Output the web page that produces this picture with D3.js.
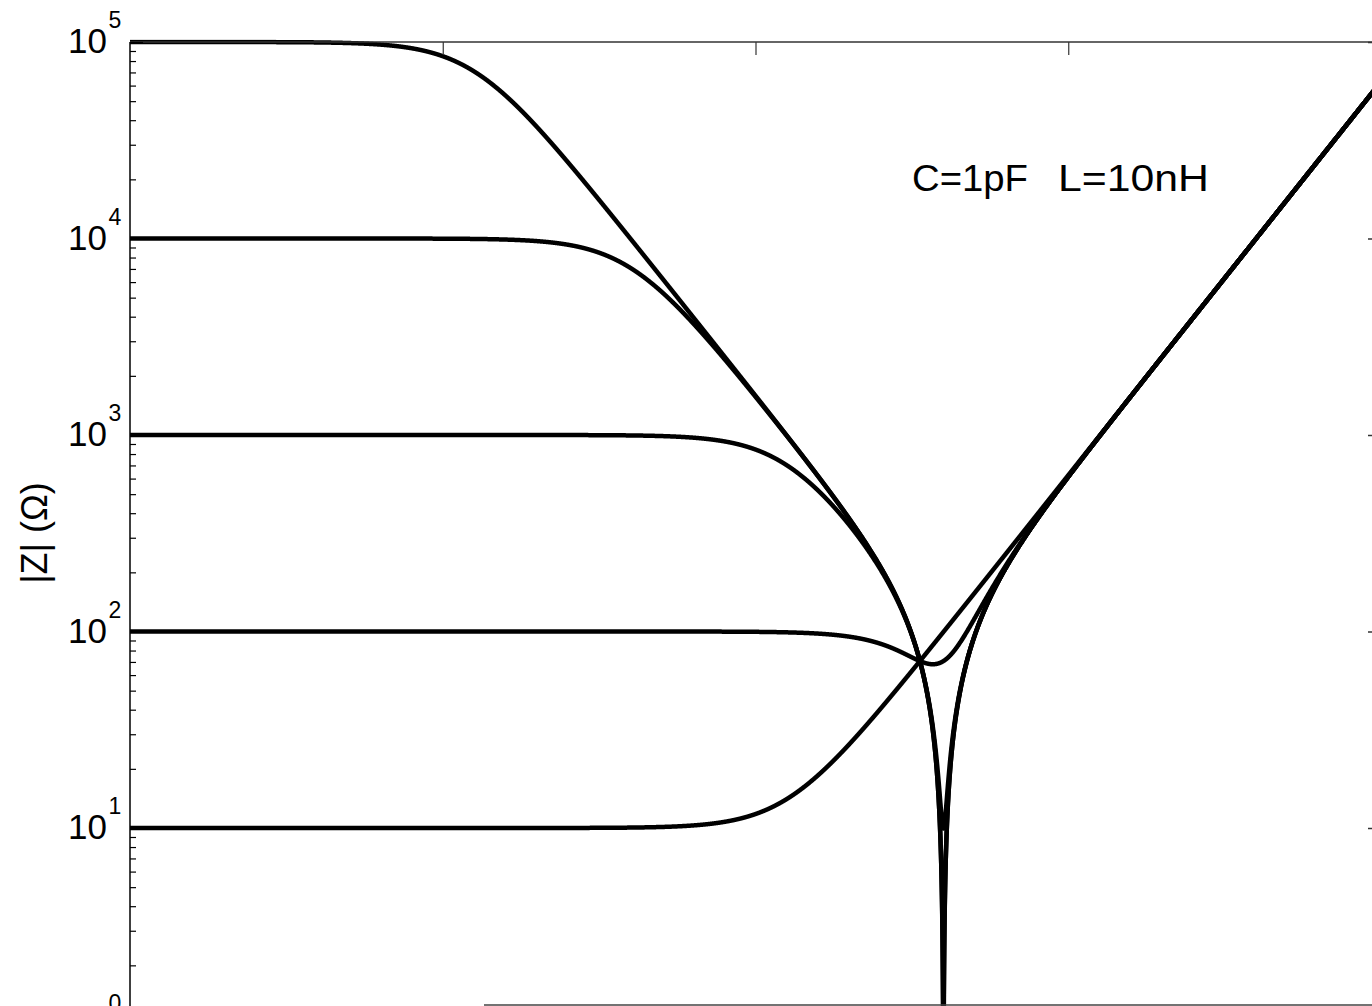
<!DOCTYPE html>
<html>
<head>
<meta charset="utf-8">
<script src="https://cdn.jsdelivr.net/npm/d3@7"></script>
<style>
  html, body { margin: 0; padding: 0; background: #fff; }
  svg { display: block; }
  text { font-family: "Liberation Sans", Arial, Helvetica, sans-serif; fill: #000; }
</style>
</head>
<body>
<svg id="chart" width="1372" height="1006"></svg>
<script>
// Parallel R–C branch in series with an inductor: |Z(f)| for several resistances
const resistances = [1e5, 1e4, 1e3, 1e2, 1e1];   // Ω
const capacitance = [1e-12];                      // F  (1 pF)
const inductance = [10e-9];                       // H  (10 nH)
const freqDomain = [1e4, 1e12];                   // Hz
const impedanceDomain = [1, 1e5];                 // Ω
const xTickExponents = [6, 8, 10];
const yTickExponents = [0, 1, 2, 3, 4, 5];
const annotation = ["C=1pF", "L=10nH"];
const yAxisTitle = ["|Z| (Ω)"];

const svg = d3.select("#chart");
const plotLeft = 130, plotRight = 1381, plotTop = 42, plotBottom = 1024.5;

const x = d3.scaleLog().domain(freqDomain).range([plotLeft, plotRight]);
const y = d3.scaleLog().domain(impedanceDomain).range([plotBottom, plotTop]);

// frequency grid (log spaced) with the resonance point added
const C = capacitance[0], L = inductance[0];
const f0 = 1 / (2 * Math.PI * Math.sqrt(L * C));
const nSamples = 8000;
const lf0 = Math.log10(freqDomain[0]), lf1 = Math.log10(freqDomain[1]);
let freqs = d3.range(nSamples + 1).map(i => Math.pow(10, lf0 + (lf1 - lf0) * i / nSamples));
freqs.push(f0);
freqs.sort((a, b) => a - b);

function impedance(R, f) {
  const w = 2 * Math.PI * f;
  const a = w * R * C;
  const re = R / (1 + a * a);
  const im = w * L - w * R * R * C / (1 + a * a);
  return Math.hypot(re, im);
}

const defs = svg.append("defs");
defs.append("clipPath").attr("id", "plotClip")
  .append("rect").attr("x", plotLeft).attr("y", plotTop - 2.5)
  .attr("width", plotRight - plotLeft).attr("height", plotBottom - plotTop + 2.5);

// curves
const line = d3.line()
  .x(d => x(d[0]))
  .y(d => y(Math.max(d[1], 0.05)));

const curves = svg.append("g").attr("clip-path", "url(#plotClip)");
resistances.forEach(R => {
  curves.append("path")
    .datum(freqs.map(f => [f, impedance(R, f)]))
    .attr("d", line)
    .attr("fill", "none")
    .attr("stroke", "#000")
    .attr("stroke-width", 4.5)
    .attr("stroke-linejoin", "round");
});

// axes frame
const axisColor = "#333";
const frame = svg.append("g");
frame.append("line").attr("x1", plotLeft).attr("x2", plotRight).attr("y1", plotTop).attr("y2", plotTop)
  .attr("stroke", axisColor).attr("stroke-width", 1.5);
frame.append("line").attr("x1", plotLeft).attr("x2", plotLeft).attr("y1", plotTop).attr("y2", plotBottom)
  .attr("stroke", "#000").attr("stroke-width", 1.5);
frame.append("line").attr("x1", plotRight).attr("x2", plotRight).attr("y1", plotTop).attr("y2", plotBottom)
  .attr("stroke", axisColor).attr("stroke-width", 1.5);
frame.append("line").attr("x1", plotLeft).attr("x2", plotRight).attr("y1", plotBottom).attr("y2", plotBottom)
  .attr("stroke", axisColor).attr("stroke-width", 1.5);

// top ticks (mirrored x ticks)
const majorLen = 13, minorLen = 6;
const topAxis = d3.axisTop(x)
  .tickValues(xTickExponents.map(e => Math.pow(10, e)))
  .tickSize(-majorLen).tickFormat("");
svg.append("g").attr("transform", `translate(0,${plotTop})`).call(topAxis)
  .call(g => g.select(".domain").remove())
  .call(g => g.selectAll("line").attr("stroke", axisColor).attr("stroke-width", 1.2));

// left ticks: decades plus minor ticks
const minorVals = [];
yTickExponents.forEach(e => {
  if (e < 5) d3.range(2, 10).forEach(m => minorVals.push(m * Math.pow(10, e)));
});
svg.append("g").attr("transform", `translate(${plotLeft},0)`)
  .call(d3.axisRight(y).tickValues(minorVals).tickSize(minorLen).tickFormat(""))
  .call(g => g.select(".domain").remove())
  .call(g => g.selectAll("line").attr("stroke", "#000").attr("stroke-width", 1.2));
svg.append("g").attr("transform", `translate(${plotLeft},0)`)
  .call(d3.axisRight(y).tickValues(yTickExponents.map(e => Math.pow(10, e))).tickSize(majorLen).tickFormat(""))
  .call(g => g.select(".domain").remove())
  .call(g => g.selectAll("line").attr("stroke", "#000").attr("stroke-width", 1.2));

// right ticks at decades
svg.append("g").attr("transform", `translate(${plotRight},0)`)
  .call(d3.axisLeft(y).tickValues(yTickExponents.map(e => Math.pow(10, e))).tickSize(majorLen).tickFormat(""))
  .call(g => g.select(".domain").remove())
  .call(g => g.selectAll("line").attr("stroke", axisColor).attr("stroke-width", 1.5));

// y tick labels 10^n
const yLabels = svg.append("g");
yTickExponents.forEach(e => {
  const ty = y(Math.pow(10, e));
  yLabels.append("text")
    .attr("x", 107).attr("y", ty + 11)
    .attr("text-anchor", "end")
    .attr("font-size", 35)
    .text("10");
  yLabels.append("text")
    .attr("x", 108.5).attr("y", ty - 14)
    .attr("font-size", 23)
    .text(String(e));
});

// y axis title
svg.append("text")
  .attr("transform", "translate(47,533) rotate(-90)")
  .attr("text-anchor", "middle")
  .attr("font-size", 36)
  .text(yAxisTitle[0]);

// component annotation
svg.append("text").attr("x", 912).attr("y", 191).attr("font-size", 37)
  .attr("textLength", 116).attr("lengthAdjust", "spacingAndGlyphs").text(annotation[0]);
svg.append("text").attr("x", 1058).attr("y", 191).attr("font-size", 37)
  .attr("textLength", 151).attr("lengthAdjust", "spacingAndGlyphs").text(annotation[1]);

// lower frame edge of the next panel
svg.append("line").attr("x1", 484).attr("x2", 1372).attr("y1", 1005).attr("y2", 1005)
  .attr("stroke", "#444").attr("stroke-width", 1.5);
</script>
</body>
</html>
